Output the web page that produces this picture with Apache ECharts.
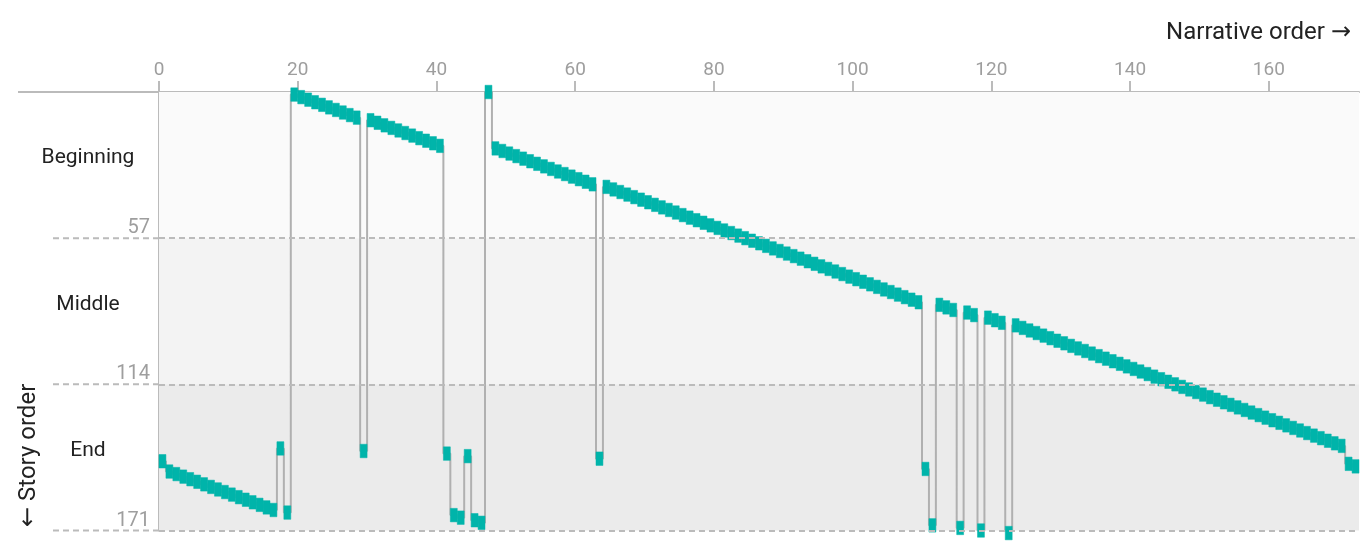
<!DOCTYPE html>
<html><head><meta charset="utf-8">
<script src="https://cdn.jsdelivr.net/npm/echarts@6/dist/echarts.min.js"></script>
<style>html,body{margin:0;padding:0;background:#fff}#c{width:1371px;height:560px}</style>
</head><body><div id="c"></div>
<script>
// Story position (0 = first in story) of each scene, listed in narrative order 0..172
const storyOrder = [
  144,
  148,149,150,151,152,153,154,155,156,157,158,159,160,161,162,163,
  139,
  164,
  1,2,3,4,5,6,7,8,9,10,
  140,
  11,12,13,14,15,16,17,18,19,20,21,
  141,
  165,166,
  142,
  167,168,
  0,
  22,23,24,25,26,27,28,29,30,31,32,33,34,35,36,
  143,
  37,38,39,40,41,42,43,44,45,46,47,48,49,50,51,52,53,54,55,56,57,58,59,60,61,62,63,64,65,66,67,68,69,70,71,72,73,74,75,76,77,78,79,80,81,82,
  147,
  169,
  83,84,85,
  170,
  86,87,
  171,
  88,89,90,
  172,
  91,92,93,94,95,96,97,98,99,100,101,102,103,104,105,106,107,108,109,110,111,112,113,114,115,116,117,118,119,120,121,122,123,124,125,126,127,128,129,130,131,132,133,134,135,136,137,138,
  145,146
];
const xTickValues = [0,20,40,60,80,100,120,140,160];
const yTickValues = [57,114,171];
const sectionNames = ['Beginning','Middle','End'];
const sectionBounds = [0,57,114,171];
const sceneCount = 173;

const TEAL = '#00b4aa';
const GREY = '#bbbbbb';
const bandColors = ['#fafafa','#f3f3f3','#ebebeb'];

const scenes = storyOrder.map((s,i)=>[i,s]);
const stepPoints = storyOrder.map((s,i)=>[i+0.5,s]);

const chart = echarts.init(document.getElementById('c'), null, {renderer:'canvas'});
const option = {
  animation:false,
  backgroundColor:'#fff',
  title:{text:'Narrative order {arr|\u2192}', right:15, top:16,
    textStyle:{fontFamily:'Roboto', fontSize:24, fontWeight:'normal', color:'#222',
      rich:{arr:{fontFamily:'DejaVu Sans', fontSize:24, color:'#222'}}}},
  grid:{left:159, top:92, width:1200, height:438.5, containLabel:false},
  xAxis:{type:'value', position:'top', min:0, max:sceneCount,
    axisLine:{show:true, lineStyle:{color:GREY, width:2}},
    axisTick:{show:true, inside:false, length:11, customValues:xTickValues, lineStyle:{color:GREY, width:2}},
    axisLabel:{show:true, customValues:xTickValues, color:'#9e9e9e', fontFamily:'Roboto', fontSize:19, margin:12},
    splitLine:{show:false}},
  yAxis:{type:'value', inverse:true, min:0, max:171,
    axisLine:{show:true, onZero:false, lineStyle:{color:GREY, width:2}},
    axisTick:{show:false},
    axisLabel:{show:true, customValues:yTickValues, color:'#9e9e9e', fontFamily:'Roboto', fontSize:20, margin:9, verticalAlign:'bottom'},
    splitLine:{show:false}},
  series:[
    {type:'line', name:'bands', data:[], z:1, silent:true,
      markArea:{silent:true, data:sectionNames.map((n,k)=>[
        {yAxis:sectionBounds[k], itemStyle:{color:bandColors[k]}}, {yAxis:sectionBounds[k+1]}])},
      markLine:{silent:true, symbol:'none', label:{show:false},
        lineStyle:{type:[6,4], color:GREY, width:2},
        data:sectionBounds.slice(1).map(v=>({yAxis:v}))}},
    {type:'line', name:'path', data:stepPoints, step:'middle', showSymbol:false, z:2, silent:true,
      lineStyle:{color:'#b0b0b0', width:2}},
    {type:'custom', name:'scenes', data:scenes, z:3, clip:false, silent:true,
      renderItem:function(params, api){
        const x = api.value(0), y = api.value(1);
        const a = api.coord([x, y]);
        const b = api.coord([x+1, y]);
        const h = 13.5;
        return {type:'rect', shape:{x:a[0], y:a[1]-h/2, width:b[0]-a[0], height:h},
          style:{fill:TEAL, stroke:TEAL, lineWidth:0.5}};
      }}
  ]
};
chart.setOption(option);

const origin = chart.convertToPixel({gridIndex:0}, [0,0]);
const yPix = v => chart.convertToPixel({yAxisIndex:0}, v);
const g = [];
g.push({type:'line', shape:{x1:18, y1:origin[1], x2:origin[0], y2:origin[1]},
  style:{stroke:GREY, lineWidth:2}, z:5});
sectionBounds.slice(1).forEach(v=>{
  g.push({type:'line', shape:{x1:53, y1:yPix(v), x2:origin[0], y2:yPix(v)},
    style:{stroke:GREY, lineWidth:2, lineDash:[6,4]}, z:5});
});
sectionNames.forEach((n,k)=>{
  const mid = (yPix(sectionBounds[k]) + yPix(sectionBounds[k+1]))/2;
  g.push({type:'text', x:88, y:mid-7, style:{text:n, fontFamily:'Roboto', fontSize:21, fill:'#222', align:'center', verticalAlign:'middle'}, z:5});
});
g.push({type:'text', x:29, y:527, rotation:Math.PI/2,
  style:{text:'{arr|\u2190} Story order', fontFamily:'Roboto', fontSize:24, fill:'#222', align:'left', verticalAlign:'middle',
    rich:{arr:{fontFamily:'DejaVu Sans', fontSize:24, fill:'#222'}}}, z:5});
chart.setOption({graphic:{elements:g}});
</script>
</body></html>
